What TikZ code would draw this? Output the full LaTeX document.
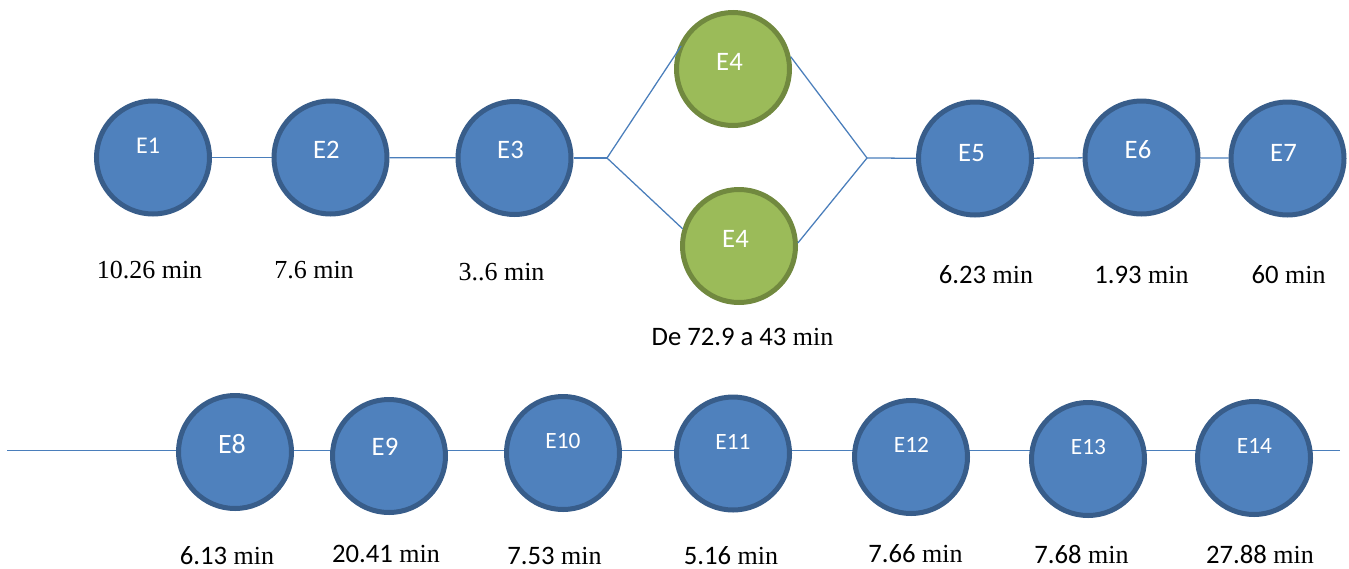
\documentclass[tikz,border=0pt]{standalone}
\usepackage{fontspec}
\setmainfont{Liberation Serif}
\newfontfamily\calfont{Carlito}
\newfontfamily\tmsfont{Liberation Serif}
\usetikzlibrary{backgrounds}
\definecolor{bfill}{HTML}{4F81BD}
\definecolor{bdraw}{HTML}{385D8A}
\definecolor{gfill}{HTML}{9BBB59}
\definecolor{gdraw}{HTML}{71893F}
\definecolor{lnk}{HTML}{4A7EBB}
\tikzset{
  bcirc/.style={circle, inner sep=0pt, minimum size=84.75pt, fill=bfill, draw=bdraw, line width=3.75pt},
  gcirc/.style={circle, inner sep=0pt, minimum size=84.75pt, fill=gfill, draw=gdraw, line width=3.75pt},
  conn/.style={draw=lnk, line width=0.95pt},
  etxt/.style={anchor=base, inner sep=0pt, text=white, font=\calfont\fontsize{20pt}{24pt}\selectfont},
  esmall/.style={font=\calfont\fontsize{17.5pt}{21pt}\selectfont},
  tlbl/.style={anchor=base, inner sep=0pt, text depth=0pt, font=\tmsfont\fontsize{19.5pt}{23pt}\selectfont},
}
\newcommand{\cn}[1]{{\calfont\fontsize{20pt}{24pt}\selectfont #1}}
\begin{document}
\begin{tikzpicture}[x=0.75pt,y=-0.75pt]
\useasboundingbox (0,0) rectangle (1349,568);
% top row circles
\node[bcirc] (e1) at (153,157.5) {};
\node[bcirc] (e2) at (330.5,157.5) {};
\node[bcirc] (e3) at (514.5,158) {};
\node[gcirc] (e4a) at (733,69) {};
\node[gcirc] (e4b) at (739,246) {};
\node[bcirc] (e5) at (975,158.5) {};
\node[bcirc] (e6) at (1141.5,157.5) {};
\node[bcirc] (e7) at (1287.5,158.5) {};
\coordinate (j1) at (607,158);
\coordinate (j2) at (867,158);
% bottom row circles
\node[bcirc] (e8) at (235,452) {};
\node[bcirc] (e9) at (389,456) {};
\node[bcirc] (e10) at (563,453) {};
\node[bcirc] (e11) at (733,453.5) {};
\node[bcirc] (e12) at (911,457) {};
\node[bcirc] (e13) at (1088,459) {};
\node[bcirc] (e14) at (1254,458) {};
\coordinate (l0) at (7,450.5);
\coordinate (l1) at (1340,450.5);
% connectors
\begin{pgfonlayer}{background}
\draw[conn] (e1) -- (e2);
\draw[conn] (e2) -- (e3);
\draw[conn] (e3) -- (j1);
\draw[conn] (j2) -- (e5);
\draw[conn] (e5) -- (e6);
\draw[conn] (e6) -- (e7);
\draw[conn] (l0) -- (l0 -| e8.center);
\draw[conn] (l0 -| e8.center) -- (l0 -| e9.center);
\draw[conn] (l0 -| e9.center) -- (l0 -| e10.center);
\draw[conn] (l0 -| e10.center) -- (l0 -| e11.center);
\draw[conn] (l0 -| e11.center) -- (l0 -| e12.center);
\draw[conn] (l0 -| e12.center) -- (l0 -| e13.center);
\draw[conn] (l0 -| e13.center) -- (l0 -| e14.center);
\draw[conn] (l0 -| e14.center) -- (l1);
\end{pgfonlayer}
\draw[conn, shorten >=-7pt] (j1) -- (e4a.165);
\draw[conn] (j1) -- (e4b.163);
\draw[conn] (e4a.12) -- (j2);
\draw[conn] (e4b.3) -- (j2);
% circle texts
\node[etxt, font=\calfont\fontsize{18pt}{22pt}\selectfont] at (148,153) {E1};
\node[etxt] at (326.5,158) {E2};
\node[etxt] at (510.5,158) {E3};
\node[etxt] at (729.5,70) {E4};
\node[etxt] at (735.5,247) {E4};
\node[etxt] at (971.5,161) {E5};
\node[etxt] at (1138,158) {E6};
\node[etxt] at (1283.5,161) {E7};
\node[etxt, font=\calfont\fontsize{21pt}{25pt}\selectfont] at (232,453) {E8};
\node[etxt] at (385,455) {E9};
\node[etxt, esmall] at (563,448) {E10};
\node[etxt, esmall] at (733,449) {E11};
\node[etxt, esmall] at (911.5,452) {E12};
\node[etxt, esmall] at (1088.5,454) {E13};
\node[etxt, esmall] at (1254.5,453) {E14};
% time labels
\node[tlbl] (t1) at (149.5,278) {10.26 min};
\node[tlbl] (t2) at (314,278) {7.6 min};
\node[tlbl] (t3) at (501.5,280) {3..6 min};
\node[tlbl] (t4) at (742.5,345) {\cn{De 72.9 a 43} min};
\node[tlbl] (t5) at (986,283) {\cn{6.23} min};
\node[tlbl] (t6) at (1141.5,283) {\cn{1.93} min};
\node[tlbl] (t7) at (1288.5,283) {\cn{60} min};
\node[tlbl] (t8) at (227,564) {\cn{6.13} min};
\node[tlbl] (t9) at (386,562.7) {\cn{20.41} min};
\node[tlbl] (t10) at (554.5,564) {\cn{7.53} min};
\node[tlbl] (t11) at (731,564) {\cn{5.16} min};
\node[tlbl] (t12) at (915.5,562.7) {\cn{7.66} min};
\node[tlbl] (t13) at (1081.5,563) {\cn{7.68} min};
\node[tlbl] (t14) at (1260,563) {\cn{27.88} min};
\end{tikzpicture}
\end{document}
